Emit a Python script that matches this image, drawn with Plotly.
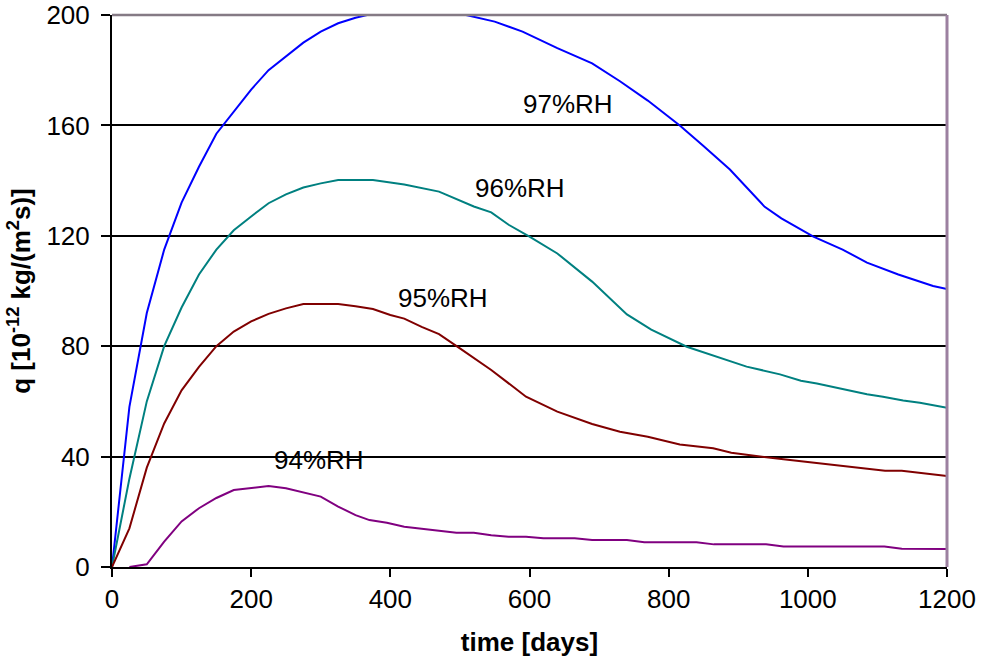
import plotly.graph_objects as go

# 97 %RH
x97 = [0, 25, 50, 75, 100, 125, 150, 175, 200, 225, 250, 275, 300, 325, 350, 375, 400, 450, 500,
       550, 590, 640, 690, 730, 770, 816, 850, 888, 938, 962, 1008, 1050, 1085, 1130, 1180, 1200]
y97 = [0, 58, 92, 115, 132, 145, 157, 165, 173, 180, 185, 190, 194, 197, 199, 200.5, 201.5, 202, 200.5,
       197.6, 194, 188, 182.5, 176, 169, 160, 152.5, 144, 130.5, 126.3, 119.7, 115, 110.3, 106, 101.8, 100.7]

# 96 %RH
x96 = [0, 25, 50, 75, 100, 125, 150, 175, 200, 225, 250, 275, 300, 325, 350, 375, 420, 470, 520, 545,
       570, 600, 640, 690, 740, 775, 826, 870, 912, 960, 990, 1013, 1050, 1085, 1108, 1137, 1161, 1200]
y96 = [0, 32, 60, 80, 94, 106, 115, 122, 127, 131.8, 135, 137.5, 139, 140.2, 140.2, 140.2, 138.6, 136, 130.6, 128.5,
       124, 119.7, 113.6, 103.4, 91.5, 86, 79.8, 76, 72.6, 69.8, 67.5, 66.5, 64.5, 62.6, 61.7, 60.3, 59.5, 57.7]

# 95 %RH
x95 = [0, 25, 50, 75, 100, 125, 150, 175, 200, 225, 250, 275, 300, 325, 350, 375, 400, 420, 445, 470,
       500, 545, 595, 640, 690, 730, 770, 816, 864, 890, 965, 1013, 1061, 1111, 1135, 1200]
y95 = [0, 14, 36, 52, 64, 72.5, 80, 85.3, 89, 91.7, 93.7, 95.3, 95.3, 95.3, 94.5, 93.5, 91.3, 90, 87, 84.4,
       79.2, 71.4, 61.7, 56.3, 51.8, 49, 47.2, 44.4, 43, 41.4, 39, 37.6, 36.3, 34.9, 34.9, 33]

# 94 %RH
x94 = [25, 50, 75, 100, 125, 150, 175, 200, 225, 250, 275, 300, 325, 350, 370, 395, 420, 445, 470, 495,
       520, 545, 570, 595, 620, 665, 690, 740, 765, 840, 865, 940, 965, 1110, 1135, 1200]
y94 = [0, 1, 9.2, 16.5, 21.3, 25, 27.9, 28.5, 29.3, 28.5, 27, 25.5, 21.9, 18.8, 17, 16, 14.6, 13.8, 13, 12.4,
       12.4, 11.5, 11, 11, 10.4, 10.4, 9.8, 9.8, 9, 9, 8.2, 8.2, 7.4, 7.4, 6.6, 6.5]

labels = ["97%RH", "96%RH", "95%RH", "94%RH"]
label_x = [655, 586, 476, 297]
label_y = [167.8, 137.3, 97.5, 38.8]

x_ticks = [0, 200, 400, 600, 800, 1000, 1200]
y_ticks = [0, 40, 80, 120, 160, 200]

series = [(x97, y97, "#0000FF"), (x96, y96, "#008080"), (x95, y95, "#800000"), (x94, y94, "#800080")]

FONT = "Liberation Sans, Arial, sans-serif"

fig = go.Figure()
for (xs, ys, col), name in zip(series, labels):
    fig.add_trace(go.Scatter(x=xs, y=ys, mode="lines", name=name,
                             line=dict(color=col, width=2), showlegend=False))

for t, lx, ly in zip(labels, label_x, label_y):
    fig.add_annotation(x=lx, y=ly, text=t, showarrow=False,
                       font=dict(family=FONT, size=26, color="black"))

# top and right borders
fig.add_shape(type="line", xref="paper", yref="paper", x0=0, x1=1, y0=1, y1=1,
              line=dict(color="#857A85", width=2.5), layer="above")
fig.add_shape(type="line", xref="paper", yref="paper", x0=1, x1=1, y0=0, y1=1,
              line=dict(color="#9C80A0", width=3), layer="above")

fig.update_layout(
    width=982, height=659,
    margin=dict(l=112, r=35, t=15, b=92),
    plot_bgcolor="white", paper_bgcolor="white",
    font=dict(family=FONT, size=26, color="black"),
    xaxis=dict(range=[0, 1200], tickvals=x_ticks, ticks="outside", ticklen=8, tickwidth=2,
               tickcolor="black", showline=True, linecolor="black", linewidth=2,
               showgrid=False, zeroline=False, automargin=False,
               title=dict(text="<b>time [days]</b>", font=dict(size=26), standoff=20)),
    yaxis=dict(range=[0, 200], tickvals=y_ticks, ticks="outside", ticklen=9, tickwidth=2,
               tickcolor="black", showline=True, linecolor="black", linewidth=2,
               showgrid=True, gridcolor="black", gridwidth=1.5, zeroline=False,
               ticklabelstandoff=6, automargin=False,
               title=dict(text="<b>q [10<sup>-12</sup> kg/(m<sup>2</sup>s)]</b>", font=dict(size=26), standoff=8)),
)

fig.write_html("out.html", config={"displayModeBar": False},
               post_script="document.body.style.margin='0';document.body.style.overflow='hidden';")
